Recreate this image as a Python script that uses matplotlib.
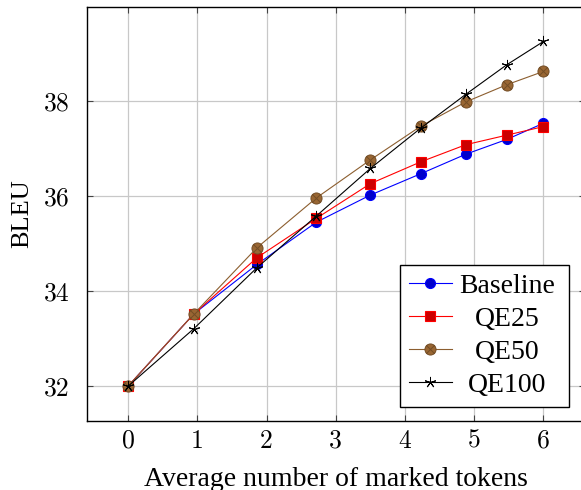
import matplotlib
matplotlib.use("Agg")
import matplotlib.pyplot as plt
import numpy as np
from matplotlib.path import Path

# ---- data ----
x_tokens = [0.0, 0.95, 1.86, 2.72, 3.50, 4.23, 4.88, 5.47, 6.0]
baseline = [32.0, 33.52, 34.56, 35.45, 36.02, 36.47, 36.88, 37.19, 37.53]
qe25 = [32.0, 33.52, 34.70, 35.53, 36.26, 36.72, 37.08, 37.28, 37.46]
qe50 = [32.0, 33.52, 34.91, 35.96, 36.76, 37.47, 37.98, 38.34, 38.62]
qe100 = [32.0, 33.21, 34.49, 35.58, 36.58, 37.43, 38.14, 38.76, 39.25]
series_names = ["Baseline", "QE25", "QE50", "QE100"]
xticks = [0, 1, 2, 3, 4, 5, 6]
yticks = [32, 34, 36, 38]

TXT = "Liberation Serif"
NUM = "cmr10"

# otimes marker: circle + diagonal cross
circ = Path.unit_circle()
d = 0.7071
cross = Path([(-d, -d), (d, d), (-d, d), (d, -d)],
             [Path.MOVETO, Path.LINETO, Path.MOVETO, Path.LINETO])
otimes = Path.make_compound_path(circ, cross)

fig = plt.figure(figsize=(5.81, 4.90), dpi=100)
ax = fig.add_axes([86.5 / 581, 69.3 / 490, (585 - 86.5) / 581, (420.7 - 7) / 490])

lw = 0.8
ax.plot(x_tokens, baseline, color="#0000ff", lw=lw, marker="o", ms=7.2,
        mfc="#0000cc", mec="#0000ff", mew=0.8, label=series_names[0], zorder=3)
ax.plot(x_tokens, qe25, color="#ff0000", lw=lw, marker="s", ms=7.4,
        mfc="#cc0000", mec="#ff0000", mew=0.8, label=series_names[1], zorder=3)
ax.plot(x_tokens, qe50, color="#8c5e2f", lw=lw, marker=otimes, ms=8.0,
        mfc="#996633", mec="#734d26", mew=0.7, label=series_names[2], zorder=3)
ax.plot(x_tokens, qe100, color="#000000", lw=lw, marker=(5, 2, 0), ms=8.0,
        mec="#000000", mew=0.7, label=series_names[3], zorder=3)

ax.set_xlim(-0.6, 6.6)
ax.set_ylim(31.275, 39.975)
ax.set_xticks(xticks)
ax.set_yticks(yticks)
ax.set_xticklabels([str(t) for t in xticks], fontfamily=NUM, fontsize=18.5)
ax.set_yticklabels([str(t) for t in yticks], fontfamily=NUM, fontsize=18.5)
ax.tick_params(axis="both", direction="in", length=4, width=0.8, color="#444444",
               top=True, right=True)
ax.tick_params(axis="x", pad=6)
ax.tick_params(axis="y", pad=12)

ax.grid(True, color="#c8c8c8", lw=0.9, zorder=0)
ax.set_axisbelow(True)
for s in ax.spines.values():
    s.set_color("black")
    s.set_linewidth(1.0)

ax.set_xlabel("Average number of marked tokens", fontfamily=TXT, fontsize=20)
ax.xaxis.set_label_coords(0.5, -0.111)
ax.set_ylabel("BLEU", fontfamily=TXT, fontsize=19)
ax.yaxis.set_label_coords(-0.107, 0.5)

leg = ax.legend(loc="lower right", bbox_to_anchor=(0.9673, 0.0338),
                prop={"family": TXT, "size": 20}, frameon=True, fancybox=False,
                framealpha=1, edgecolor="black", handlelength=1.55,
                handletextpad=0.43, labelspacing=0.27, borderpad=0.32,
                borderaxespad=0, numpoints=1)
leg.get_frame().set_linewidth(1.0)

# centre legend texts in their column (as pgfplots does)
fig.canvas.draw()
renderer = fig.canvas.get_renderer()
texts = leg.get_texts()
widths = [t.get_window_extent(renderer).width for t in texts]
wmax = max(widths)
for t, w in zip(texts, widths):
    t.set_position(((wmax - w) / 2 - 5, 0))

fig.savefig("out.png", dpi=100)
